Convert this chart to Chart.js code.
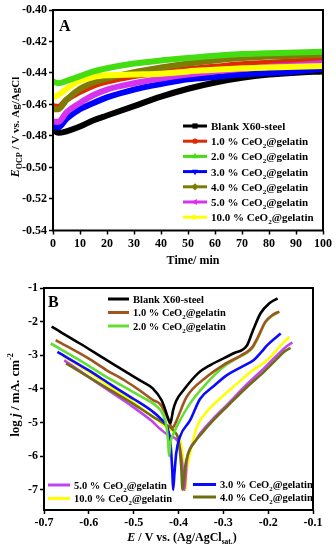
<!DOCTYPE html>
<html>
<head>
<meta charset="utf-8">
<script src="https://cdn.jsdelivr.net/npm/chart.js@4.4.1/dist/chart.umd.min.js"></script>
<style>
    html, body { margin: 0; padding: 0; background: #fff; }
    #wrap { position: relative; width: 336px; height: 550px; }
    .panel { position: absolute; left: 0; width: 336px; height: 275px; }
</style>
</head>
<body>
<div id="wrap">
    <div class="panel" style="top:0"><canvas id="chartA" width="336" height="275"></canvas></div>
    <div class="panel" style="top:275px"><canvas id="chartB" width="336" height="275"></canvas></div>
</div>
<script>
// ---- panel A : open circuit potential vs time ----
const seriesNames = ['Blank X60-steel', '1.0 % CeO2@gelatin', '2.0 % CeO2@gelatin', '3.0 % CeO2@gelatin',
    '4.0 % CeO2@gelatin', '5.0 % CeO2@gelatin', '10.0 % CeO2@gelatin'];
const colorsA = ['#000000', '#dd2a00', '#44dd11', '#0000ff', '#7d7d05', '#d633f0', '#ffff00'];
const colorsB = ['#000000', '#a05420', '#66dd33', '#0a0aff', '#6e6e10', '#c044f0', '#ffff00'];
const markers = ['square', 'circle', 'triUp', 'triDown', 'diamond', 'triLeft', 'triRight'];

const timeMin = [0, 2, 5, 10, 15, 20, 30, 40, 50, 60, 70, 80, 90, 100];
const ocpBlank = [-0.476, -0.478, -0.477, -0.474, -0.470, -0.467, -0.461, -0.455, -0.450, -0.446, -0.443, -0.441, -0.4398, -0.439];
const ocp1 = [-0.461, -0.4615, -0.457, -0.452, -0.448, -0.4455, -0.442, -0.4395, -0.4375, -0.436, -0.4345, -0.4335, -0.4325, -0.4318];
const ocp2 = [-0.4455, -0.4465, -0.445, -0.442, -0.439, -0.437, -0.434, -0.432, -0.4305, -0.429, -0.428, -0.4275, -0.427, -0.4265];
const ocp3 = [-0.474, -0.4745, -0.469, -0.463, -0.459, -0.4555, -0.4505, -0.447, -0.444, -0.4425, -0.441, -0.440, -0.439, -0.4375];
const ocp4 = [-0.463, -0.463, -0.457, -0.450, -0.446, -0.4435, -0.4395, -0.4365, -0.434, -0.432, -0.4305, -0.4295, -0.429, -0.4285];
const ocp5 = [-0.471, -0.471, -0.465, -0.459, -0.454, -0.4505, -0.4465, -0.4435, -0.441, -0.439, -0.4375, -0.436, -0.435, -0.4337];
const ocp10 = [-0.455, -0.454, -0.450, -0.445, -0.4425, -0.4415, -0.441, -0.4405, -0.439, -0.438, -0.437, -0.4365, -0.436, -0.4356];
const ocpSeries = [ocpBlank, ocp1, ocp2, ocp3, ocp4, ocp5, ocp10];

const xTicksA = [0, 10, 20, 30, 40, 50, 60, 70, 80, 90, 100];
const yTicksA = [-0.54, -0.52, -0.50, -0.48, -0.46, -0.44, -0.42, -0.40];

// ---- panel B : Tafel curves (E vs log j) ----
const tafelBlankE = [-0.683, -0.62, -0.561, -0.52, -0.487, -0.457, -0.438, -0.43, -0.423, -0.418, -0.415, -0.412, -0.405, -0.389, -0.356, -0.329, -0.277, -0.247, -0.235, -0.217, -0.198, -0.179];
const tafelBlankJ = [-2.15, -2.65, -3.14, -3.47, -3.74, -3.99, -4.33, -4.6, -4.88, -5.02, -4.85, -4.63, -4.35, -4.04, -3.53, -3.29, -2.94, -2.70, -2.3, -1.75, -1.46, -1.31];
const tafel1E = [-0.674, -0.6, -0.561, -0.52, -0.487, -0.457, -0.441, -0.43, -0.42, -0.415, -0.41, -0.404, -0.382, -0.337, -0.30, -0.26, -0.245, -0.235, -0.224, -0.206, -0.19, -0.175];
const tafel1J = [-2.55, -3.1, -3.44, -3.75, -4.04, -4.33, -4.45, -4.7, -5.0, -5.15, -5.1, -4.93, -4.24, -3.64, -3.29, -3.0, -2.88, -2.75, -2.49, -2.0, -1.8, -1.7];
const tafel2E = [-0.685, -0.62, -0.561, -0.52, -0.48, -0.45, -0.435, -0.427, -0.423, -0.421, -0.418, -0.41, -0.40, -0.374, -0.337, -0.30, -0.26, -0.247, -0.235, -0.224, -0.206, -0.19, -0.177];
const tafel2J = [-2.65, -3.15, -3.64, -3.95, -4.25, -4.5, -4.75, -5.1, -5.6, -6.0, -5.6, -5.3, -5.02, -4.43, -3.83, -3.35, -3.02, -2.92, -2.78, -2.52, -2.02, -1.82, -1.72];
const tafel3E = [-0.670, -0.6, -0.55, -0.5, -0.46, -0.44, -0.425, -0.418, -0.414, -0.412, -0.409, -0.405, -0.397, -0.374, -0.352, -0.32, -0.292, -0.26, -0.232, -0.215, -0.202, -0.172];
const tafel3J = [-2.9, -3.45, -3.88, -4.3, -4.65, -4.88, -5.15, -5.6, -6.4, -7.0, -6.5, -5.9, -5.43, -4.93, -4.3, -3.9, -3.59, -3.35, -3.14, -2.9, -2.7, -2.35];
const tafel4E = [-0.651, -0.6, -0.55, -0.5, -0.46, -0.43, -0.41, -0.399, -0.394, -0.391, -0.388, -0.385, -0.378, -0.365, -0.35, -0.32, -0.29, -0.25, -0.21, -0.18, -0.165, -0.15];
const tafel4J = [-3.24, -3.65, -4.05, -4.45, -4.8, -5.05, -5.25, -5.6, -6.3, -7.0, -6.7, -6.3, -5.9, -5.6, -5.35, -4.9, -4.5, -3.98, -3.5, -3.1, -2.9, -2.78];
const tafel5E = [-0.655, -0.6, -0.55, -0.5, -0.46, -0.44, -0.42, -0.4, -0.392, -0.387, -0.384, -0.382, -0.375, -0.36, -0.35, -0.32, -0.29, -0.25, -0.21, -0.18, -0.16, -0.146];
const tafel5J = [-3.15, -3.65, -4.1, -4.55, -4.95, -5.2, -5.4, -5.6, -6.2, -7.0, -6.6, -6.2, -5.8, -5.5, -5.3, -4.85, -4.45, -3.9, -3.4, -3.0, -2.75, -2.62];
const tafel10E = [-0.66, -0.6, -0.55, -0.5, -0.46, -0.43, -0.41, -0.395, -0.388, -0.384, -0.382, -0.379, -0.374, -0.359, -0.337, -0.30, -0.27, -0.239, -0.2, -0.175, -0.153];
const tafel10J = [-3.0, -3.5, -3.95, -4.4, -4.8, -5.1, -5.3, -5.6, -6.3, -7.0, -6.5, -6.2, -5.9, -5.13, -4.68, -4.2, -3.85, -3.49, -3.12, -2.75, -2.45];
const tafelE = [tafelBlankE, tafel1E, tafel2E, tafel3E, tafel4E, tafel5E, tafel10E];
const tafelJ = [tafelBlankJ, tafel1J, tafel2J, tafel3J, tafel4J, tafel5J, tafel10J];

const xTicksB = [-0.7, -0.6, -0.5, -0.4, -0.3, -0.2, -0.1];
const yTicksB = [-7, -6, -5, -4, -3, -2, -1];

const FONT = 'Liberation Serif';
Chart.defaults.font.family = FONT;
Chart.defaults.color = '#000';

// text helpers: parts = [{t, size, italic, shift}]
function fontOf(p) {
    return (p.italic ? 'italic ' : '') + 'bold ' + p.size + 'px "' + FONT + '"';
}
function drawRich(ctx, x, y, parts, align) {
    let w = 0;
    parts.forEach(p => { ctx.font = fontOf(p); p.w = ctx.measureText(p.t).width; w += p.w; });
    let cx = align === 'center' ? x - w / 2 : x;
    ctx.textAlign = 'left';
    ctx.textBaseline = 'alphabetic';
    ctx.fillStyle = '#000';
    parts.forEach(p => {
        ctx.font = fontOf(p);
        ctx.fillText(p.t, cx, y + (p.shift || 0));
        cx += p.w;
    });
}
function nameParts(name, size) {
    const bits = name.split('CeO2');
    if (bits.length < 2) return [{ t: name, size }];
    return [{ t: bits[0] + 'CeO', size }, { t: '2', size: size * 0.65, shift: 3 }, { t: bits[1], size }];
}

function drawMarker(ctx, kind, x, y, r) {
    ctx.beginPath();
    if (kind === 'square') {
        ctx.rect(x - r, y - r, 2 * r, 2 * r);
    } else if (kind === 'circle') {
        ctx.arc(x, y, r, 0, Math.PI * 2);
    } else if (kind === 'diamond') {
        ctx.moveTo(x, y - r - 1); ctx.lineTo(x + r + 1, y); ctx.lineTo(x, y + r + 1); ctx.lineTo(x - r - 1, y);
    } else {
        const rot = { triUp: 0, triRight: Math.PI / 2, triDown: Math.PI, triLeft: -Math.PI / 2 }[kind];
        for (let k = 0; k < 3; k++) {
            const a = rot + k * 2 * Math.PI / 3;
            const px = x + (r + 1) * Math.sin(a), py = y - (r + 1) * Math.cos(a);
            if (k === 0) ctx.moveTo(px, py); else ctx.lineTo(px, py);
        }
    }
    ctx.closePath();
    ctx.fill();
}

function fixedWidth(w) { return s => { s.width = w; }; }
function fixedHeight(h) { return s => { s.height = h; }; }
function tickAxis(ticks, fmt, fit) {
    return {
        type: 'linear',
        afterBuildTicks: s => { s.ticks = ticks.map(v => ({ value: v })); },
        afterFit: fit,
        grid: { display: true, drawOnChartArea: false, drawTicks: true, tickLength: 4, tickColor: '#000', tickWidth: 1.5 },
        border: { display: false },
        ticks: { font: { size: 12, weight: 'bold' }, color: '#000', padding: 2, maxRotation: 0, autoSkip: false, callback: fmt }
    };
}

// ---------- chart A ----------
const dsA = ocpSeries.map((vals, i) => ({
    label: seriesNames[i],
    data: timeMin.map((t, k) => ({ x: t, y: vals[k] })),
    borderColor: colorsA[i],
    borderWidth: 6,
    pointRadius: 0,
    cubicInterpolationMode: 'monotone',
    order: [6, 4, 0, 5, 3, 2, 1][i]
}));

const xA = tickAxis(xTicksA, v => String(v), fixedHeight(44.5));
xA.min = 0; xA.max = 100;
const yA = tickAxis(yTicksA, v => v.toFixed(2), fixedWidth(53));
yA.min = -0.54; yA.max = -0.40;

new Chart(document.getElementById('chartA'), {
    type: 'line',
    data: { datasets: dsA },
    options: {
        responsive: false,
        animation: false,
        events: [],
        layout: { padding: { top: 10, right: 13, bottom: 0, left: 0 } },
        plugins: { legend: { display: false }, tooltip: { enabled: false } },
        scales: { x: xA, y: yA }
    },
    plugins: [{
        id: 'decorA',
        afterDraw(chart) {
            const { ctx, chartArea: a } = chart;
            ctx.save();
            ctx.strokeStyle = '#000';
            ctx.lineWidth = 2;
            ctx.strokeRect(a.left, a.top, a.right - a.left, a.bottom - a.top);

            drawRich(ctx, 59, 31, [{ t: 'A', size: 16 }], 'left');

            seriesNames.forEach((name, i) => {
                const cy = 126 + i * 15.2;
                ctx.strokeStyle = colorsA[i];
                ctx.fillStyle = colorsA[i];
                ctx.lineWidth = 3;
                ctx.beginPath();
                ctx.moveTo(183, cy); ctx.lineTo(207, cy);
                ctx.stroke();
                drawMarker(ctx, markers[i], 195, cy, 2.6);
                drawRich(ctx, 211, cy + 4, nameParts(name, 11), 'left');
            });

            drawRich(ctx, 193, 264, [{ t: 'Time/ min', size: 12 }], 'center');

            ctx.save();
            ctx.translate(15, 127);
            ctx.rotate(-Math.PI / 2);
            drawRich(ctx, 0, 4, [
                { t: 'E', size: 12, italic: true },
                { t: 'OCP', size: 8, shift: 3 },
                { t: ' / V vs. Ag/AgCl', size: 11 }
            ], 'center');
            ctx.restore();
            ctx.restore();
        }
    }]
});

// ---------- chart B ----------
const dsB = tafelE.map((es, i) => ({
    label: seriesNames[i],
    data: es.map((e, k) => ({ x: e, y: tafelJ[i][k] })),
    borderColor: colorsB[i],
    borderWidth: 2.6,
    pointRadius: 0,
    cubicInterpolationMode: 'monotone'
}));

const xB = tickAxis(xTicksB, v => v.toFixed(1), fixedHeight(40));
xB.min = -0.7; xB.max = -0.1;
const yB = tickAxis(yTicksB, v => String(v), fixedWidth(44));
yB.min = -7.6; yB.max = -1;

const legendB = [
    { idx: 0, x0: 108, x1: 129, y: 24 },
    { idx: 1, x0: 108, x1: 129, y: 37.5 },
    { idx: 2, x0: 108, x1: 129, y: 51 },
    { idx: 5, x0: 48, x1: 70, y: 210 },
    { idx: 6, x0: 48, x1: 70, y: 223.5 },
    { idx: 3, x0: 193, x1: 216, y: 209.5 },
    { idx: 4, x0: 193, x1: 216, y: 222 }
];

new Chart(document.getElementById('chartB'), {
    type: 'line',
    data: { datasets: dsB },
    options: {
        responsive: false,
        animation: false,
        events: [],
        layout: { padding: { top: 13, right: 23, bottom: 0, left: 0 } },
        plugins: { legend: { display: false }, tooltip: { enabled: false } },
        scales: { x: xB, y: yB }
    },
    plugins: [{
        id: 'decorB',
        afterDraw(chart) {
            const { ctx, chartArea: a } = chart;
            ctx.save();
            ctx.strokeStyle = '#000';
            ctx.lineWidth = 2;
            ctx.strokeRect(a.left, a.top, a.right - a.left, a.bottom - a.top);

            drawRich(ctx, 48, 32, [{ t: 'B', size: 16 }], 'left');

            legendB.forEach(it => {
                ctx.strokeStyle = colorsB[it.idx];
                ctx.lineWidth = 3;
                ctx.beginPath();
                ctx.moveTo(it.x0, it.y); ctx.lineTo(it.x1, it.y);
                ctx.stroke();
                drawRich(ctx, it.x1 + 4, it.y + 3.5, nameParts(seriesNames[it.idx], 10.5), 'left');
            });

            drawRich(ctx, 182, 266, [
                { t: 'E', size: 12, italic: true },
                { t: ' / V vs. (Ag/AgCl', size: 12 },
                { t: 'sat.', size: 7.5, shift: 3 },
                { t: ')', size: 12 }
            ], 'center');

            ctx.save();
            ctx.translate(15, 120);
            ctx.rotate(-Math.PI / 2);
            drawRich(ctx, 0, 4, [
                { t: 'log ', size: 13 },
                { t: 'j', size: 13, italic: true },
                { t: ' / mA. cm', size: 13 },
                { t: '-2', size: 8, shift: -6 }
            ], 'center');
            ctx.restore();
            ctx.restore();
        }
    }]
});
</script>
</body>
</html>
